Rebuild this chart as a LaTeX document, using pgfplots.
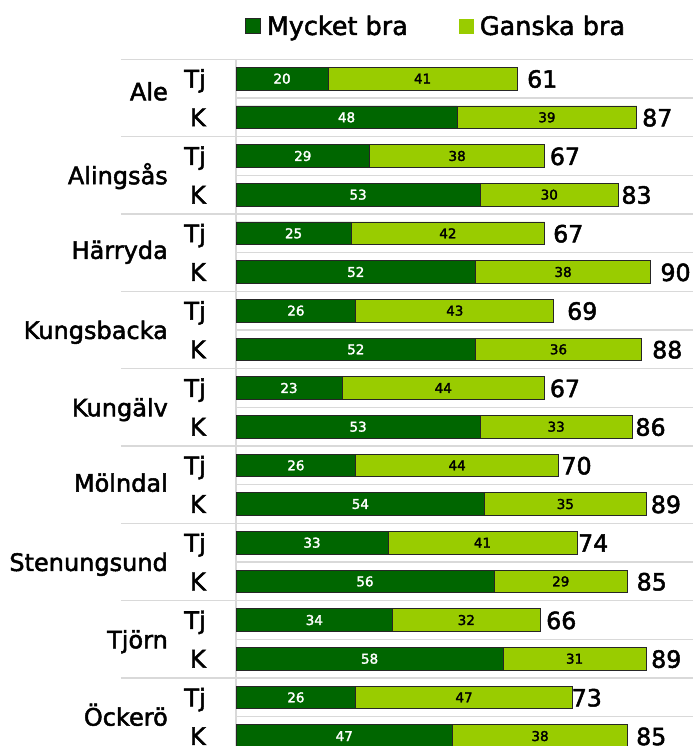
\documentclass[border=0pt]{standalone}
\usepackage{fontspec}
\setmainfont{DejaVu Sans}[FakeBold=2]
\usepackage{pgfplots}
\usepackage{pgfplotstable}
\pgfplotsset{compat=1.18}
\definecolor{dkgreen}{HTML}{006600}
\definecolor{ltgreen}{HTML}{99CC00}
\definecolor{gridgray}{gray}{0.85}

\pgfplotstableread{
y m g tot lx
0 20 41 61 63.16
1 48 39 87 88.13
2 29 38 67 68.09
3 53 30 83 83.63
4 25 42 67 68.81
5 52 38 90 92.10
6 26 43 69 71.85
7 52 36 88 90.30
8 23 44 67 68.09
9 53 33 86 86.67
10 26 44 70 70.61
11 54 35 89 90.01
12 33 41 74 74.23
13 56 29 85 86.93
14 34 32 66 67.29
15 58 31 89 90.08
16 26 47 73 72.84
17 47 38 85 86.82
}\bars

\pgfplotstableread{
yg name
0.33 Ale
2.5 Alingsås
4.43 Härryda
6.5 Kungsbacka
8.5 Kungälv
10.45 Mölndal
12.5 Stenungsund
14.5 Tjörn
16.5 Öckerö
}\groups

\pgfplotsset{
  base/.style={at={(236pt,-755.4pt)}, anchor=south west, width=457pt, height=696.1pt,
    scale only axis, xmin=0, xmax=99.2, ymin=-0.5, ymax=17.5, y dir=reverse},
  lbl/.style={only marks, mark=*, mark size=0pt, mark options={draw=none,fill=none},
    point meta=explicit symbolic, nodes near coords},
  legA/.style={legend image code/.code={\draw[##1] (0pt,-7.5pt) rectangle (15pt,7.5pt);}},
  legB/.style={legend image code/.code={\path[##1, draw=none] (0pt,-7.5pt) rectangle (15pt,7.5pt);}},
}

\begin{document}
\begin{tikzpicture}
\useasboundingbox (0,0) rectangle (693pt,-746pt);
\clip (0,0) rectangle (693pt,-746pt);
\begin{axis}[base,
  xbar stacked, bar width=22.7pt,
  axis y line*=left, axis x line=none,
  axis line style={draw=gridgray, line width=1.3pt},
  y axis line style={draw=gridgray, line width=1.3pt},
  every outer y axis line/.append style={draw=gridgray},
  xtick=\empty,
  ytick={0,...,17},
  yticklabels={Tj,K,Tj,K,Tj,K,Tj,K,Tj,K,Tj,K,Tj,K,Tj,K,Tj,K},
  yticklabel style={anchor=base east, inner sep=0pt, xshift=-30pt, yshift=-8.9pt,
    font=\fontsize{24.3}{29}\selectfont},
  major tick length=0pt, minor tick length=0pt,
  minor ytick={-0.5,0.5,...,17.5},
  ymajorgrids=false, yminorgrids=true,
  minor grid style={draw=gridgray, line width=1.3pt},
  extra y ticks={-0.5,1.5,3.5,5.5,7.5,9.5,11.5,13.5,15.5,17.5},
  extra y tick labels={},
  extra y tick style={major tick length=115pt, tick align=outside,
    tick style={draw=gridgray, line width=1.3pt}},
  legend columns=2,
  legend style={at={(0.0197,1.0478)}, anchor=west, draw=none, fill=none,
    inner sep=0pt, outer sep=0pt, nodes={inner sep=0pt},
    font=\fontsize{25.5}{30}\selectfont,
    /tikz/every odd column/.append style={column sep=6pt},
    /tikz/every even column/.append style={column sep=51pt}},
]
\addplot[fill=dkgreen, draw=black!85, line width=0.8pt, legA]
  table[x=m, y=y] {\bars};
\addplot[fill=ltgreen, draw=black!85, line width=0.8pt, legB]
  table[x=g, y=y] {\bars};
\legend{Mycket bra, Ganska bra}
\end{axis}

\begin{axis}[base, hide axis, clip=false]
\addplot[lbl, every node near coord/.append style={anchor=center, inner sep=0pt,
    text=white, font=\fontsize{13.5}{15}\selectfont}]
  table[x expr=\thisrow{m}/2, y=y, meta=m] {\bars};
\addplot[lbl, every node near coord/.append style={anchor=center, inner sep=0pt,
    text=black, font=\fontsize{13.5}{15}\selectfont}]
  table[x expr=\thisrow{m}+\thisrow{g}/2, y=y, meta=g] {\bars};
\addplot[lbl, every node near coord/.append style={anchor=base west, inner sep=0pt,
    yshift=-9pt, text=black, font=\fontsize{23.7}{28}\selectfont}]
  table[x=lx, y=y, meta=tot] {\bars};
\addplot[lbl, every node near coord/.append style={anchor=base east, inner sep=0pt,
    yshift=-8.9pt, text=black, font=\fontsize{24}{29}\selectfont}]
  table[x expr=-14.76, y=yg, meta=name] {\groups};
\end{axis}
\end{tikzpicture}
\end{document}
